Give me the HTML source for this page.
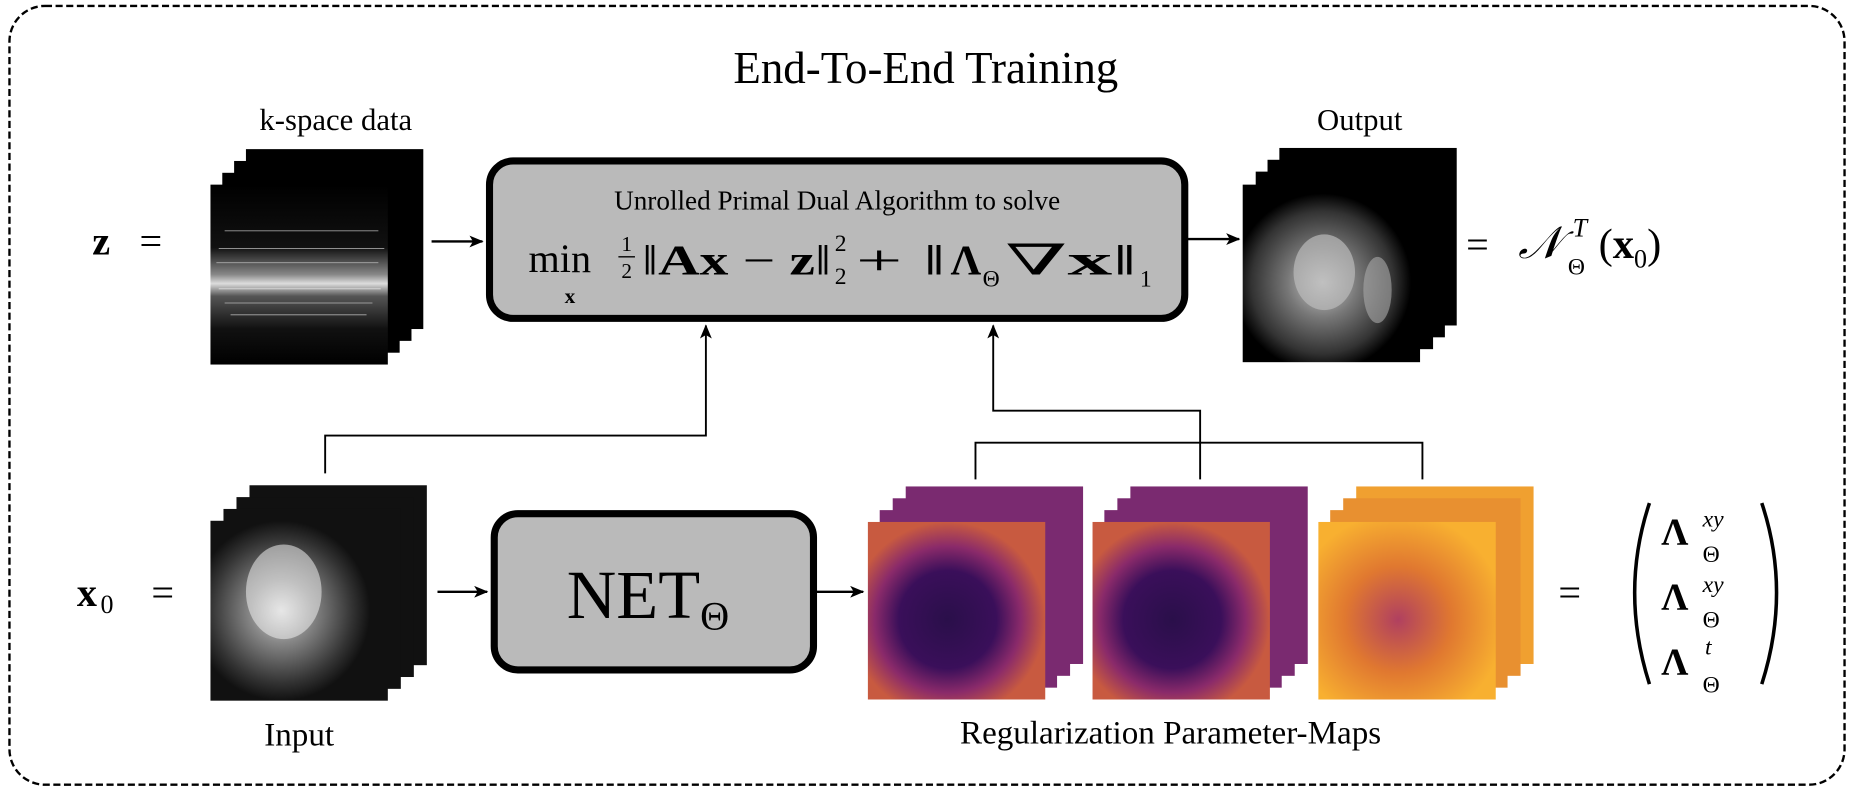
<!DOCTYPE html>
<html><head><meta charset="utf-8"><style>
html,body{margin:0;padding:0;background:#fff;width:1854px;height:793px;overflow:hidden}
svg{display:block}
text{font-family:"Liberation Serif","DejaVu Serif",serif;fill:#000}
</style></head><body>
<svg width="1854" height="793" viewBox="0 0 1568 670" preserveAspectRatio="none" xmlns="http://www.w3.org/2000/svg">
<defs>
<marker id="ah" markerWidth="12" markerHeight="10" refX="11" refY="5" orient="auto" markerUnits="userSpaceOnUse">
<path d="M0,0 L12,5 L0,10 L3,5 Z" fill="#000"/></marker>
<linearGradient id="ks" x1="0" y1="0" x2="0" y2="1">
<stop offset="0" stop-color="#000"/><stop offset="0.35" stop-color="#111"/><stop offset="0.5" stop-color="#888"/><stop offset="0.55" stop-color="#ddd"/><stop offset="0.62" stop-color="#555"/><stop offset="0.8" stop-color="#111"/><stop offset="1" stop-color="#000"/></linearGradient>
<radialGradient id="out" cx="0.45" cy="0.55" r="0.5">
<stop offset="0" stop-color="#ccc"/><stop offset="0.4" stop-color="#777"/><stop offset="0.8" stop-color="#333"/><stop offset="1" stop-color="#000"/></radialGradient>
<radialGradient id="inp" cx="0.4" cy="0.5" r="0.5">
<stop offset="0" stop-color="#ddd"/><stop offset="0.35" stop-color="#888"/><stop offset="0.8" stop-color="#333"/><stop offset="1" stop-color="#111"/></radialGradient>
<radialGradient id="mp" cx="0.45" cy="0.55" r="0.55">
<stop offset="0" stop-color="#2a0f4a"/><stop offset="0.5" stop-color="#3a0f5a"/><stop offset="0.75" stop-color="#8a2a6a"/><stop offset="1" stop-color="#c85a40"/></radialGradient>
<radialGradient id="mt" cx="0.45" cy="0.55" r="0.6">
<stop offset="0" stop-color="#b04060"/><stop offset="0.5" stop-color="#e07830"/><stop offset="1" stop-color="#f8b030"/></radialGradient>
</defs>

<rect x="8" y="5" width="1552" height="658" rx="30" ry="30" fill="none" stroke="#000" stroke-width="2" stroke-dasharray="6,3"/>

<text x="783" y="70" font-size="38" text-anchor="middle">End-To-End Training</text>
<text x="284" y="110" font-size="26" text-anchor="middle">k-space data</text>
<text x="1150" y="110" font-size="26" text-anchor="middle">Output</text>

<!-- kspace stack -->
<g>
<rect x="208" y="126" width="150" height="152" fill="#000"/>
<rect x="198" y="136" width="150" height="152" fill="#000"/>
<rect x="188" y="146" width="150" height="152" fill="#000"/>
<rect x="178" y="156" width="150" height="152" fill="url(#ks)"/>
<g stroke="#fff" stroke-width="0.7" opacity="0.6">
<line x1="190" y1="195" x2="320" y2="195"/><line x1="185" y1="210" x2="325" y2="210"/><line x1="183" y1="222" x2="320" y2="222"/><line x1="185" y1="244" x2="322" y2="244"/><line x1="190" y1="256" x2="315" y2="256"/><line x1="195" y1="266" x2="310" y2="266"/></g>
</g>

<!-- main box -->
<rect x="414" y="136" width="588" height="133" rx="20" ry="20" fill="#bababa" stroke="#000" stroke-width="6"/>
<text x="708" y="177" font-size="23" text-anchor="middle">Unrolled Primal Dual Algorithm to solve</text>
<text x="447" y="230" font-size="34">min</text>
<text x="482" y="256" font-size="18" font-weight="bold" text-anchor="middle">x</text>
<text x="530" y="212" font-size="18" text-anchor="middle">1</text>
<line x1="523" y1="217" x2="537" y2="217" stroke="#000" stroke-width="1.2"/>
<text x="530" y="235" font-size="18" text-anchor="middle">2</text>
<text x="543" y="232" font-size="36" textLength="160" lengthAdjust="spacingAndGlyphs">‖<tspan font-weight="bold">Ax</tspan> − <tspan font-weight="bold">z</tspan>‖</text>
<text x="706" y="212" font-size="20">2</text>
<text x="706" y="240" font-size="20">2</text>
<text x="724" y="232" font-size="36" textLength="76" lengthAdjust="spacingAndGlyphs">+ ‖</text>
<text x="804" y="232" font-size="36" font-weight="bold">Λ</text>
<text x="831" y="242" font-size="20">Θ</text>
<text x="850" y="232" font-size="36" textLength="112" lengthAdjust="spacingAndGlyphs">∇<tspan font-weight="bold">x</tspan>‖</text>
<text x="964" y="242" font-size="20">1</text>

<text x="78" y="215" font-size="34" font-weight="bold">z</text>
<text x="118" y="215" font-size="34">=</text>
<line x1="365" y1="204" x2="408" y2="204" stroke="#000" stroke-width="2" marker-end="url(#ah)"/>
<line x1="1003" y1="202" x2="1048" y2="202" stroke="#000" stroke-width="2" marker-end="url(#ah)"/>

<!-- output stack -->
<rect x="1082" y="125" width="150" height="150" fill="#000"/>
<rect x="1072" y="135" width="150" height="150" fill="#000"/>
<rect x="1062" y="145" width="150" height="150" fill="#000"/>
<rect x="1051" y="156" width="150" height="150" fill="url(#out)"/>
<ellipse cx="1120" cy="230" rx="26" ry="32" fill="#bbb" opacity="0.7"/>
<ellipse cx="1165" cy="245" rx="12" ry="28" fill="#aaa" opacity="0.6"/>
<text x="1240" y="218" font-size="34">=</text>
<text x="1284" y="218" font-size="38" font-style="italic">𝒩</text>
<text x="1330" y="200" font-size="22" font-style="italic">T</text>
<text x="1326" y="232" font-size="20">Θ</text>
<text x="1352" y="218" font-size="36">(<tspan font-weight="bold">x</tspan><tspan font-size="22" dy="8">0</tspan><tspan dy="-8">)</tspan></text>

<!-- connectors -->
<polyline points="275,400 275,368 597,368 597,275" fill="none" stroke="#000" stroke-width="1.6" marker-end="url(#ah)"/>
<polyline points="825,405 825,374 1203,374 1203,405" fill="none" stroke="#000" stroke-width="1.6"/>
<polyline points="1015,405 1015,347 840,347 840,275" fill="none" stroke="#000" stroke-width="1.6" marker-end="url(#ah)"/>

<!-- input stack -->
<rect x="211" y="410" width="150" height="152" fill="#111"/>
<rect x="200" y="420" width="150" height="152" fill="#111"/>
<rect x="189" y="430" width="150" height="152" fill="#111"/>
<rect x="178" y="440" width="150" height="152" fill="url(#inp)"/>
<ellipse cx="240" cy="500" rx="32" ry="40" fill="#eee" opacity="0.55"/>
<text x="65" y="512" font-size="34" font-weight="bold">x</text>
<text x="85" y="518" font-size="22">0</text>
<text x="128" y="512" font-size="34">=</text>
<line x1="370" y1="500" x2="412" y2="500" stroke="#000" stroke-width="2" marker-end="url(#ah)"/>

<rect x="418" y="434" width="270" height="132" rx="20" ry="20" fill="#bababa" stroke="#000" stroke-width="6"/>
<text x="548" y="522" font-size="58" text-anchor="middle">NET<tspan font-size="34" dy="10">Θ</tspan></text>
<line x1="690" y1="500" x2="730" y2="500" stroke="#000" stroke-width="2" marker-end="url(#ah)"/>

<!-- maps -->
<g>
<rect x="766" y="411" width="150" height="150" fill="#7a2a70"/>
<rect x="755" y="421" width="150" height="150" fill="#7a2a70"/>
<rect x="744" y="431" width="150" height="150" fill="#7a2a70"/>
<rect x="734" y="441" width="150" height="150" fill="url(#mp)"/>
<rect x="956" y="411" width="150" height="150" fill="#7a2a70"/>
<rect x="945" y="421" width="150" height="150" fill="#7a2a70"/>
<rect x="934" y="431" width="150" height="150" fill="#7a2a70"/>
<rect x="924" y="441" width="150" height="150" fill="url(#mp)"/>
<rect x="1147" y="411" width="150" height="150" fill="#f0a030"/>
<rect x="1136" y="421" width="150" height="150" fill="#e89030"/>
<rect x="1125" y="431" width="150" height="150" fill="#e89030"/>
<rect x="1115" y="441" width="150" height="150" fill="url(#mt)"/>
</g>

<text x="1318" y="512" font-size="34">=</text>
<path d="M1395,425 Q1370,500 1395,578" fill="none" stroke="#000" stroke-width="3"/>
<path d="M1490,425 Q1515,500 1490,578" fill="none" stroke="#000" stroke-width="3"/>
<text x="1405" y="460" font-size="32" font-weight="bold">Λ</text>
<text x="1440" y="445" font-size="20" font-style="italic">xy</text><text x="1440" y="475" font-size="20">Θ</text>
<text x="1405" y="515" font-size="32" font-weight="bold">Λ</text>
<text x="1440" y="500" font-size="20" font-style="italic">xy</text><text x="1440" y="530" font-size="20">Θ</text>
<text x="1405" y="570" font-size="32" font-weight="bold">Λ</text>
<text x="1442" y="553" font-size="20" font-style="italic">t</text><text x="1440" y="585" font-size="20">Θ</text>

<text x="253" y="630" font-size="28" text-anchor="middle">Input</text>
<text x="990" y="628" font-size="28" text-anchor="middle">Regularization Parameter-Maps</text>
</svg>
</body></html>
